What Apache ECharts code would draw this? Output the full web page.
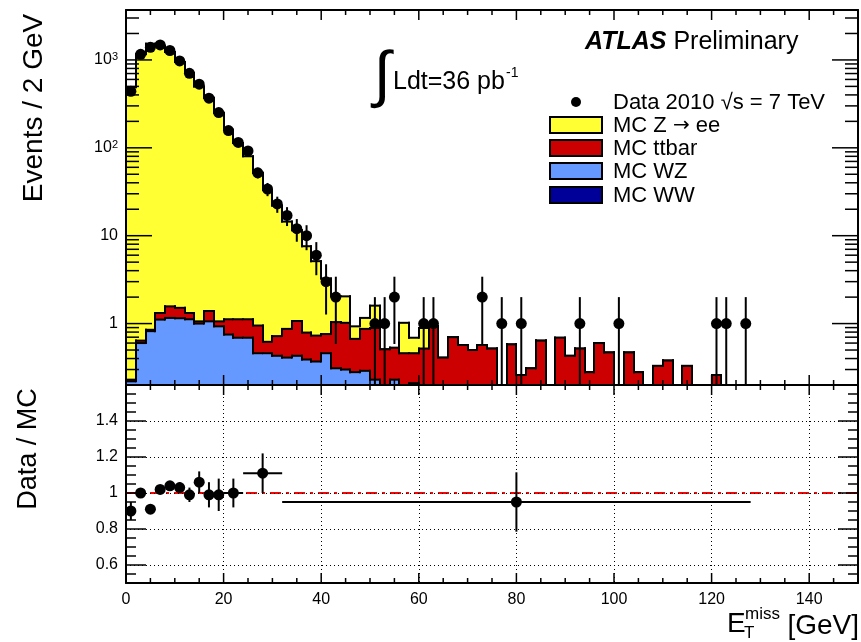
<!DOCTYPE html>
<html>
<head>
<meta charset="utf-8">
<script src="https://cdn.jsdelivr.net/npm/echarts@6/dist/echarts.min.js"></script>
<style>
  html, body { margin: 0; padding: 0; background: #fff; }
  #chart { width: 861px; height: 642px; }
</style>
</head>
<body>
<div id="chart"></div>
<script>
// bins of 2 GeV from 0 to 150 GeV (75 bins)
const BIN = 2;
const X_MIN = 0, X_MAX = 150;
const Y_MIN = 0.2, Y_MAX = 3700;
const R_MIN = 0.5, R_MAX = 1.6;

// data 2010, events per bin
const dataCounts = [
  440, 1160, 1390, 1480, 1280, 975, 705, 530, 367, 252,
  157, 115, 92, 52, 34, 23, 17, 12, 10, 6,
  3, 2, 0, 0, 0, 1, 1, 2, 0, 0,
  1, 1, 0, 0, 0, 0, 2, 0, 1, 0,
  1, 0, 0, 0, 0, 0, 1, 0, 0, 0,
  1, 0, 0, 0, 0, 0, 0, 0, 0, 0,
  1, 1, 0, 1, 0, 0, 0, 0, 0, 0,
  0, 0, 0, 0, 0
];

// MC contributions per bin
const mcZee = [
  490, 1159, 1529, 1449, 1228, 948, 709, 499, 369, 249,
  159, 112, 79, 51, 32.4, 21.3, 13.6, 10.5, 6.8, 4.4,
  2.5, 1.0, 1.02, 0.26, 0.29, 0.71, 0, 0, 0.56, 0.23,
  0.37, 0, 0, 0, 0, 0, 0, 0, 0, 0,
  0, 0, 0, 0, 0, 0, 0, 0, 0, 0,
  0, 0, 0, 0, 0, 0, 0, 0, 0, 0,
  0, 0, 0, 0, 0, 0, 0, 0, 0, 0,
  0, 0, 0, 0, 0
];
const mcTtbar = [
  0.01, 0.04, 0.03, 0.21, 0.41, 0.36, 0.20, 0.06, 0.33, 0.13,
  0.37, 0.43, 0.43, 0.49, 0.16, 0.29, 0.46, 0.64, 0.40, 0.36,
  0.30, 0.73, 0.72, 0.39, 0.58, 0.66, 0.51, 0.30, 0.46, 0.25,
  0.52, 0.94, 0.41, 0.70, 0.57, 0.50, 0.57, 0.52, 0, 0.58,
  0.26, 0.31, 0.64, 0, 0.69, 0.43, 0.52, 0.28, 0.60, 0.47,
  0, 0.47, 0.28, 0, 0.33, 0.38, 0, 0.33, 0, 0,
  0.26, 0, 0, 0, 0, 0, 0, 0, 0, 0,
  0, 0, 0, 0, 0
];
const mcWZ = [
  0.18, 0.56, 0.78, 1.07, 1.12, 1.11, 1.08, 0.96, 1.02, 0.89,
  0.71, 0.65, 0.65, 0.42, 0.42, 0.39, 0.37, 0.39, 0.35, 0.33,
  0.42, 0.27, 0.26, 0.24, 0.25, 0.23, 0, 0.23, 0, 0.21,
  0, 0, 0, 0, 0, 0, 0, 0, 0, 0,
  0, 0, 0, 0, 0, 0, 0, 0, 0, 0,
  0, 0, 0, 0, 0, 0, 0, 0, 0, 0,
  0, 0, 0, 0, 0, 0, 0, 0, 0, 0,
  0, 0, 0, 0, 0
];
const mcWW = [
  0.04, 0.04, 0.04, 0.04, 0.04, 0.04, 0.04, 0.04, 0.04, 0.04,
  0.04, 0.04, 0.04, 0.04, 0.04, 0.04, 0.04, 0.04, 0.04, 0.04,
  0.04, 0.04, 0.04, 0.04, 0.04, 0, 0, 0, 0, 0,
  0, 0, 0, 0, 0, 0, 0, 0, 0, 0,
  0, 0, 0, 0, 0, 0, 0, 0, 0, 0,
  0, 0, 0, 0, 0, 0, 0, 0, 0, 0,
  0, 0, 0, 0, 0, 0, 0, 0, 0, 0,
  0, 0, 0, 0, 0
];

// ratio panel (variable bins)
const ratioX    = [1, 3, 5, 7, 9, 11, 13, 15, 17, 19, 22, 28, 80];
const ratioXErr = [1, 1, 1, 1, 1, 1, 1, 1, 1, 1, 2, 4, 48];
const ratioVal  = [0.90, 1.00, 0.91, 1.02, 1.04, 1.03, 0.99, 1.06, 0.99, 0.99, 1.00, 1.11, 0.95];
const ratioErr  = [0.05, 0.025, 0.015, 0.02, 0.025, 0.03, 0.04, 0.06, 0.07, 0.09, 0.08, 0.11, 0.165];

// tick positions
const xMajorTicks = [0, 20, 40, 60, 80, 100, 120, 140];
const xMinorTicks = [5, 10, 15, 25, 30, 35, 45, 50, 55, 65, 70, 75, 85, 90, 95,
  105, 110, 115, 125, 130, 135, 145];
const yMajorTicks = [1, 10, 100, 1000];
const yMinorTicks = [0.3, 0.4, 0.5, 0.6, 0.7, 0.8, 0.9, 2, 3, 4, 5, 6, 7, 8, 9,
  20, 30, 40, 50, 60, 70, 80, 90, 200, 300, 400, 500, 600, 700, 800, 900, 2000, 3000];
const rMajorTicks = [0.6, 0.8, 1, 1.2, 1.4];
const rMinorTicks = [0.55, 0.65, 0.7, 0.75, 0.85, 0.9, 0.95, 1.05, 1.1, 1.15,
  1.25, 1.3, 1.35, 1.45, 1.5, 1.55];

const FONT = 'Liberation Sans';
const COL_Z = '#ffff33', COL_TT = '#cc0000', COL_WZ = '#6699ff', COL_WW = '#000099';

// stacked levels
const lvWW = mcWW.slice();
const lvWZ = lvWW.map((v, i) => v + mcWZ[i]);
const lvTT = lvWZ.map((v, i) => v + mcTtbar[i]);
const lvZ  = lvTT.map((v, i) => v + mcZee[i]);

function stepData(levels) {
  return levels.map((v, i) => [i * BIN, (i + 1) * BIN, v, i > 0 ? levels[i - 1] : 0]);
}

function stepRenderer(color) {
  return function (params, api) {
    const x0 = api.value(0), x1 = api.value(1);
    const lv = Math.max(api.value(2), Y_MIN);
    const pv = Math.max(api.value(3), Y_MIN);
    const tl = api.coord([x0, lv]);
    const br = api.coord([x1, Y_MIN]);
    const prev = api.coord([x0, pv]);
    const xa = Math.round(tl[0]), xb = Math.round(br[0]);
    const line = { stroke: '#000', lineWidth: 2, lineCap: 'square' };
    return {
      type: 'group',
      children: [
        { type: 'rect', shape: { x: xa, y: tl[1], width: xb - xa, height: br[1] - tl[1] }, style: { fill: color } },
        { type: 'line', shape: { x1: xa, y1: tl[1], x2: xb, y2: tl[1] }, style: line },
        { type: 'line', shape: { x1: xa, y1: prev[1], x2: xa, y2: tl[1] }, style: line }
      ]
    };
  };
}

function histSeries(name, levels, color) {
  return {
    name: name, type: 'custom', xAxisIndex: 0, yAxisIndex: 0, z: 2,
    renderItem: stepRenderer(color),
    encode: { x: [0, 1], y: 2 },
    data: stepData(levels)
  };
}

function tickRenderer(yLo, yHi) {
  return function (params, api) {
    const len = api.value(2), side = api.value(3);
    let segs;
    if (side === 0) {
      const y = api.value(1);
      const l = api.coord([X_MIN, y]), r = api.coord([X_MAX, y]);
      segs = [[l[0], l[1], l[0] + len, l[1]], [r[0] - len, r[1], r[0], r[1]]];
    } else {
      const x = api.value(0);
      const b = api.coord([x, yLo]), t = api.coord([x, yHi]);
      segs = [[b[0], b[1], b[0], b[1] - len], [t[0], t[1], t[0], t[1] + len]];
    }
    return {
      type: 'group',
      children: segs.map(s => ({
        type: 'line', shape: { x1: s[0], y1: s[1], x2: s[2], y2: s[3] },
        style: { stroke: '#000', lineWidth: 1.5 }
      }))
    };
  };
}

function tickData(yLo, yMaj, yMin, yMajLen, yMinLen) {
  const d = [];
  xMajorTicks.forEach(v => d.push([v, yLo, 10, 1]));
  xMinorTicks.forEach(v => d.push([v, yLo, 5, 1]));
  yMaj.forEach(v => d.push([X_MIN, v, yMajLen, 0]));
  yMin.forEach(v => d.push([X_MIN, v, yMinLen, 0]));
  return d;
}

const pointsTop = [];
const errTop = [];
dataCounts.forEach((n, i) => {
  if (n > 0) {
    const xc = i * BIN + BIN / 2;
    pointsTop.push([xc, n]);
    errTop.push([xc, n, Math.sqrt(n)]);
  }
});

const ratioPoints = ratioX.map((x, i) => [x, ratioVal[i]]);
const ratioErrData = ratioX.map((x, i) => [x, ratioVal[i], ratioXErr[i], ratioErr[i]]);

const chart = echarts.init(document.getElementById('chart'));

const frameLine = { show: true, onZero: false, lineStyle: { color: '#000', width: 2 } };
const noTick = { show: false };

const option = {
  animation: false,
  textStyle: { fontFamily: FONT },
  grid: [
    { left: 126, top: 10, width: 732, height: 375 },
    { left: 126, top: 385, width: 732, height: 198 }
  ],
  xAxis: [
    { gridIndex: 0, type: 'value', min: X_MIN, max: X_MAX, position: 'bottom', z: 5,
      axisLine: frameLine, axisTick: noTick, axisLabel: { show: false }, splitLine: { show: false } },
    { gridIndex: 0, type: 'value', min: X_MIN, max: X_MAX, position: 'top', z: 5,
      axisLine: frameLine, axisTick: noTick, axisLabel: { show: false }, splitLine: { show: false } },
    { gridIndex: 1, type: 'value', min: X_MIN, max: X_MAX, interval: 20, position: 'bottom', z: 5,
      axisLine: frameLine, axisTick: noTick,
      axisLabel: { color: '#000', fontSize: 16, fontFamily: FONT, margin: 9, showMaxLabel: false },
      splitLine: { show: true, lineStyle: { color: '#000', width: 1, type: [1, 3] } } },
    { gridIndex: 1, type: 'value', min: X_MIN, max: X_MAX, position: 'top', z: 5,
      axisLine: frameLine, axisTick: noTick, axisLabel: { show: false }, splitLine: { show: false } }
  ],
  yAxis: [
    { gridIndex: 0, type: 'log', logBase: 10, min: Y_MIN, max: Y_MAX, position: 'left', z: 5,
      axisLine: frameLine, axisTick: noTick, splitLine: { show: false },
      axisLabel: {
        color: '#000', fontSize: 16, fontFamily: FONT, margin: 8,
        showMinLabel: false, showMaxLabel: false,
        formatter: function (v) {
          const p = Math.round(Math.log10(v));
          return p <= 1 ? String(Math.round(v)) : '10{sup|' + p + '}';
        },
        rich: { sup: { fontSize: 11, fontFamily: FONT, color: '#000', verticalAlign: 'top', lineHeight: 10 } }
      } },
    { gridIndex: 0, type: 'log', logBase: 10, min: Y_MIN, max: Y_MAX, position: 'right', z: 5,
      axisLine: frameLine, axisTick: noTick, axisLabel: { show: false }, splitLine: { show: false } },
    { gridIndex: 1, type: 'value', min: R_MIN, max: R_MAX, position: 'left', z: 5,
      axisLine: frameLine, axisTick: noTick,
      axisLabel: { color: '#000', fontSize: 16, fontFamily: FONT, margin: 8, showMinLabel: false, showMaxLabel: false },
      splitLine: { show: true, lineStyle: { color: '#000', width: 1, type: [1, 3] } } },
    { gridIndex: 1, type: 'value', min: R_MIN, max: R_MAX, position: 'right', z: 5,
      axisLine: frameLine, axisTick: noTick, axisLabel: { show: false }, splitLine: { show: false } }
  ],
  series: [
    histSeries('MC Z→ee', lvZ, COL_Z),
    histSeries('MC ttbar', lvTT, COL_TT),
    histSeries('MC WZ', lvWZ, COL_WZ),
    histSeries('MC WW', lvWW, COL_WW),
    {
      name: 'data err', type: 'custom', xAxisIndex: 0, yAxisIndex: 0, z: 3,
      encode: { x: 0, y: 1 },
      renderItem: function (params, api) {
        const x = api.value(0), n = api.value(1), e = api.value(2);
        const a = api.coord([x, Math.max(n - e, Y_MIN)]), b = api.coord([x, n + e]);
        return { type: 'line', shape: { x1: a[0], y1: a[1], x2: b[0], y2: b[1] }, style: { stroke: '#000', lineWidth: 2 } };
      },
      data: errTop
    },
    {
      name: 'Data 2010', type: 'scatter', xAxisIndex: 0, yAxisIndex: 0, z: 4,
      symbol: 'circle', symbolSize: 11, itemStyle: { color: '#000', opacity: 1 }, data: pointsTop
    },
    {
      name: 'ticks top', type: 'custom', xAxisIndex: 0, yAxisIndex: 0, z: 6, silent: true,
      encode: { x: 0, y: 1 },
      renderItem: tickRenderer(Y_MIN, Y_MAX),
      data: tickData(Y_MIN, yMajorTicks, yMinorTicks, 26, 13)
    },
    {
      name: 'unity', type: 'line', xAxisIndex: 2, yAxisIndex: 2, z: 3, symbol: 'none',
      lineStyle: { color: '#ff0000', width: 2, type: [11, 5, 3, 5] },
      data: [[X_MIN, 1], [X_MAX, 1]]
    },
    {
      name: 'ratio err', type: 'custom', xAxisIndex: 2, yAxisIndex: 2, z: 4,
      encode: { x: 0, y: 1 },
      renderItem: function (params, api) {
        const x = api.value(0), r = api.value(1), ex = api.value(2), ey = api.value(3);
        const v0 = api.coord([x, r - ey]), v1 = api.coord([x, r + ey]);
        const h0 = api.coord([x - ex, r]), h1 = api.coord([x + ex, r]);
        const st = { stroke: '#000', lineWidth: 2 };
        return { type: 'group', children: [
          { type: 'line', shape: { x1: v0[0], y1: v0[1], x2: v1[0], y2: v1[1] }, style: st },
          { type: 'line', shape: { x1: h0[0], y1: h0[1], x2: h1[0], y2: h1[1] }, style: st }
        ] };
      },
      data: ratioErrData
    },
    {
      name: 'ratio', type: 'scatter', xAxisIndex: 2, yAxisIndex: 2, z: 5,
      symbol: 'circle', symbolSize: 11, itemStyle: { color: '#000', opacity: 1 }, data: ratioPoints
    },
    {
      name: 'ticks ratio', type: 'custom', xAxisIndex: 2, yAxisIndex: 2, z: 6, silent: true,
      encode: { x: 0, y: 1 },
      renderItem: tickRenderer(R_MIN, R_MAX),
      data: tickData(R_MIN, rMajorTicks, rMinorTicks, 20, 10)
    }
  ],
  graphic: [
    // axis titles
    { type: 'text', x: 34, y: 108, rotation: Math.PI / 2, z: 10,
      style: { text: 'Events / 2 GeV', font: '28px ' + FONT, fill: '#000', textAlign: 'center', textVerticalAlign: 'middle' } },
    { type: 'text', x: 29, y: 449, rotation: Math.PI / 2, z: 10,
      style: { text: 'Data / MC', font: '27px ' + FONT, fill: '#000', textAlign: 'center', textVerticalAlign: 'middle' } },
    { type: 'text', x: 727, y: 638, z: 10,
      style: { text: 'E', font: '28px ' + FONT, fill: '#000', textAlign: 'left', textVerticalAlign: 'bottom' } },
    { type: 'text', x: 744, y: 642, z: 10,
      style: { text: 'T', font: '17px ' + FONT, fill: '#000', textAlign: 'left', textVerticalAlign: 'bottom' } },
    { type: 'text', x: 745, y: 623, z: 10,
      style: { text: 'miss', font: '17px ' + FONT, fill: '#000', textAlign: 'left', textVerticalAlign: 'bottom' } },
    { type: 'text', x: 859, y: 640, z: 10,
      style: { text: '[GeV]', font: '28px ' + FONT, fill: '#000', textAlign: 'right', textVerticalAlign: 'bottom' } },
    // labels
    { type: 'text', x: 585, y: 42, z: 10,
      style: { text: '{b|ATLAS} Preliminary', font: '25px ' + FONT, fill: '#000', textAlign: 'left', textVerticalAlign: 'middle',
        rich: { b: { font: 'italic bold 25px ' + FONT, fill: '#000' } } } },
    { type: 'text', x: 382, y: 78, z: 10,
      style: { text: '∫', font: '62px ' + FONT, fill: '#000', textAlign: 'center', textVerticalAlign: 'middle' } },
    { type: 'text', x: 393, y: 95, z: 10,
      style: { text: 'Ldt=36 pb', font: '25px ' + FONT, fill: '#000', textAlign: 'left', textVerticalAlign: 'bottom' } },
    { type: 'text', x: 506, y: 80, z: 10,
      style: { text: '-1', font: '14px ' + FONT, fill: '#000', textAlign: 'left', textVerticalAlign: 'bottom' } },
    // legend
    { type: 'circle', shape: { cx: 576, cy: 102, r: 5 }, style: { fill: '#000' }, z: 10 },
    { type: 'text', x: 613, y: 103, z: 10,
      style: { text: 'Data 2010 √s = 7 TeV', font: '22px ' + FONT, fill: '#000', textVerticalAlign: 'middle' } },
    { type: 'rect', shape: { x: 550, y: 117, width: 52, height: 16 }, style: { fill: COL_Z, stroke: '#000', lineWidth: 2 }, z: 10 },
    { type: 'text', x: 613, y: 126, z: 10,
      style: { text: 'MC Z {a|→} ee', font: '22px ' + FONT, fill: '#000', textVerticalAlign: 'middle',
        rich: { a: { font: '20px DejaVu Sans', fill: '#000' } } } },
    { type: 'rect', shape: { x: 550, y: 140, width: 52, height: 16 }, style: { fill: COL_TT, stroke: '#000', lineWidth: 2 }, z: 10 },
    { type: 'text', x: 613, y: 149, z: 10,
      style: { text: 'MC ttbar', font: '22px ' + FONT, fill: '#000', textVerticalAlign: 'middle' } },
    { type: 'rect', shape: { x: 550, y: 163, width: 52, height: 16 }, style: { fill: COL_WZ, stroke: '#000', lineWidth: 2 }, z: 10 },
    { type: 'text', x: 613, y: 172, z: 10,
      style: { text: 'MC WZ', font: '22px ' + FONT, fill: '#000', textVerticalAlign: 'middle' } },
    { type: 'rect', shape: { x: 550, y: 187, width: 52, height: 16 }, style: { fill: COL_WW, stroke: '#000', lineWidth: 2 }, z: 10 },
    { type: 'text', x: 613, y: 196, z: 10,
      style: { text: 'MC WW', font: '22px ' + FONT, fill: '#000', textVerticalAlign: 'middle' } }
  ]
};

chart.setOption(option);
</script>
</body>
</html>
